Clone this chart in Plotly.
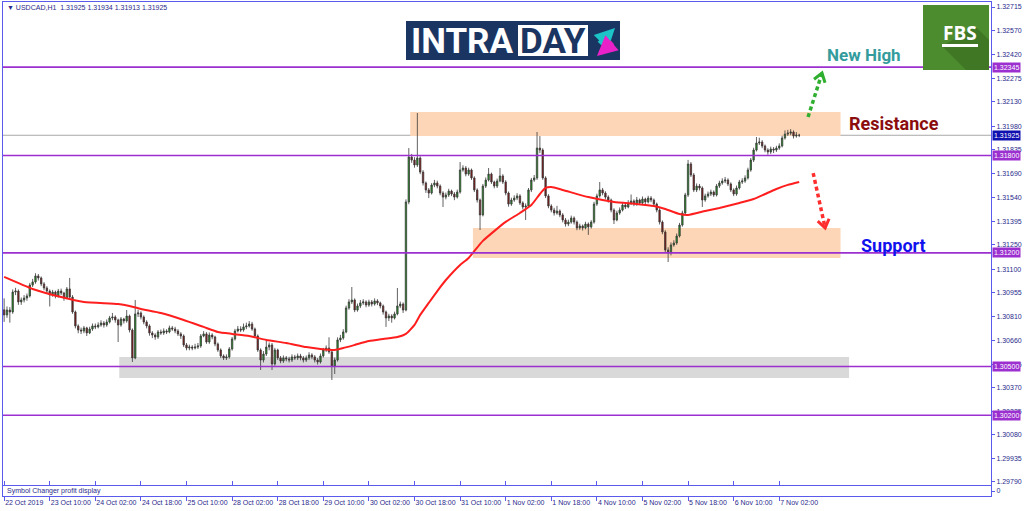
import plotly.graph_objects as go

# ---------------- data ----------------
BAR_INDEX = list(range(280))

OPEN = [1.30850,
 1.30818, 1.30848, 1.30836, 1.30959, 1.30965, 1.30898, 1.30910, 1.30922, 1.30935, 1.31002,
 1.31021, 1.31058, 1.31046, 1.31009, 1.30984, 1.30965, 1.30941, 1.30959, 1.30935, 1.30965,
 1.30953, 1.30922, 1.30978, 1.30928, 1.30836, 1.30750, 1.30725, 1.30719, 1.30738, 1.30707,
 1.30731, 1.30750, 1.30744, 1.30756, 1.30768, 1.30756, 1.30774, 1.30799, 1.30805, 1.30787,
 1.30756, 1.30793, 1.30781, 1.30811, 1.30725, 1.30553, 1.30824, 1.30830, 1.30805, 1.30774,
 1.30750, 1.30707, 1.30694, 1.30682, 1.30713, 1.30707, 1.30719, 1.30713, 1.30738, 1.30731,
 1.30719, 1.30701, 1.30688, 1.30633, 1.30614, 1.30620, 1.30614, 1.30620, 1.30627, 1.30688,
 1.30701, 1.30651, 1.30694, 1.30682, 1.30639, 1.30602, 1.30565, 1.30553, 1.30559, 1.30608,
 1.30670, 1.30719, 1.30731, 1.30725, 1.30744, 1.30750, 1.30762, 1.30731, 1.30688, 1.30602,
 1.30540, 1.30577, 1.30620, 1.30633, 1.30516, 1.30602, 1.30553, 1.30534, 1.30553, 1.30547,
 1.30540, 1.30559, 1.30553, 1.30565, 1.30553, 1.30540, 1.30553, 1.30571, 1.30559, 1.30540,
 1.30528, 1.30565, 1.30602, 1.30614, 1.30590, 1.30503, 1.30540, 1.30664, 1.30676, 1.30713,
 1.30861, 1.30898, 1.30910, 1.30848, 1.30873, 1.30892, 1.30898, 1.30879, 1.30898, 1.30885,
 1.30904, 1.30892, 1.30873, 1.30836, 1.30799, 1.30811, 1.30799, 1.30824, 1.30873, 1.30885,
 1.30848, 1.31514, 1.31791, 1.31772, 1.31742, 1.31785, 1.31698, 1.31631, 1.31588, 1.31569,
 1.31618, 1.31631, 1.31612, 1.31569, 1.31544, 1.31557, 1.31581, 1.31563, 1.31544, 1.31575,
 1.31711, 1.31723, 1.31686, 1.31711, 1.31662, 1.31588, 1.31526, 1.31434, 1.31612, 1.31649,
 1.31686, 1.31637, 1.31612, 1.31643, 1.31674, 1.31637, 1.31569, 1.31501, 1.31526, 1.31538,
 1.31551, 1.31508, 1.31483, 1.31489, 1.31588, 1.31649, 1.31662, 1.31846, 1.31834, 1.31662,
 1.31551, 1.31489, 1.31464, 1.31446, 1.31458, 1.31434, 1.31403, 1.31378, 1.31390, 1.31415,
 1.31390, 1.31354, 1.31366, 1.31354, 1.31378, 1.31360, 1.31390, 1.31501, 1.31551, 1.31588,
 1.31569, 1.31544, 1.31526, 1.31464, 1.31403, 1.31446, 1.31464, 1.31495, 1.31483, 1.31508,
 1.31520, 1.31501, 1.31526, 1.31508, 1.31532, 1.31514, 1.31538, 1.31526, 1.31501, 1.31464,
 1.31390, 1.31329, 1.31218, 1.31200, 1.31249, 1.31261, 1.31304, 1.31372, 1.31446, 1.31557,
 1.31748, 1.31680, 1.31588, 1.31612, 1.31600, 1.31526, 1.31551, 1.31563, 1.31575, 1.31557,
 1.31612, 1.31631, 1.31643, 1.31649, 1.31625, 1.31588, 1.31563, 1.31600, 1.31637, 1.31643,
 1.31662, 1.31711, 1.31772, 1.31834, 1.31877, 1.31883, 1.31859, 1.31834, 1.31822, 1.31840,
 1.31834, 1.31846, 1.31859, 1.31908, 1.31932, 1.31938, 1.31945, 1.31920, 1.31925]

HIGH = [
 1.30920, 1.30870, 1.30866, 1.30975, 1.30985, 1.30975, 1.30925, 1.30940, 1.30950, 1.31015,
 1.31040, 1.31075, 1.31070, 1.31055, 1.31020, 1.30995, 1.30975, 1.30972, 1.30968, 1.30978,
 1.30980, 1.30960, 1.30990, 1.31046, 1.30940, 1.30845, 1.30760, 1.30740, 1.30750, 1.30745,
 1.30745, 1.30765, 1.30765, 1.30772, 1.30785, 1.30780, 1.30790, 1.30812, 1.30830, 1.30815,
 1.30795, 1.30805, 1.30800, 1.30848, 1.30820, 1.30735, 1.30910, 1.30850, 1.30840, 1.30815,
 1.30785, 1.30760, 1.30718, 1.30705, 1.30725, 1.30728, 1.30735, 1.30730, 1.30752, 1.30750,
 1.30745, 1.30730, 1.30712, 1.30698, 1.30645, 1.30635, 1.30632, 1.30640, 1.30645, 1.30700,
 1.30718, 1.30712, 1.30710, 1.30705, 1.30690, 1.30648, 1.30612, 1.30575, 1.30575, 1.30620,
 1.30682, 1.30732, 1.30750, 1.30748, 1.30765, 1.30770, 1.30780, 1.30775, 1.30740, 1.30698,
 1.30612, 1.30595, 1.30670, 1.30648, 1.30645, 1.30615, 1.30610, 1.30565, 1.30568, 1.30565,
 1.30560, 1.30575, 1.30572, 1.30580, 1.30578, 1.30565, 1.30568, 1.30588, 1.30582, 1.30570,
 1.30552, 1.30580, 1.30615, 1.30630, 1.30680, 1.30600, 1.30555, 1.30680, 1.30695, 1.30730,
 1.30875, 1.30915, 1.30990, 1.30920, 1.30888, 1.30910, 1.30915, 1.30908, 1.30912, 1.30910,
 1.30920, 1.30915, 1.30900, 1.30882, 1.30845, 1.30825, 1.30822, 1.30838, 1.30984, 1.30900,
 1.30895, 1.31530, 1.31846, 1.31810, 1.31790, 1.32062, 1.31795, 1.31710, 1.31640, 1.31600,
 1.31630, 1.31650, 1.31645, 1.31622, 1.31580, 1.31572, 1.31595, 1.31590, 1.31575, 1.31590,
 1.31760, 1.31740, 1.31735, 1.31725, 1.31720, 1.31672, 1.31598, 1.31535, 1.31625, 1.31665,
 1.31723, 1.31695, 1.31645, 1.31658, 1.31723, 1.31685, 1.31648, 1.31578, 1.31540, 1.31555,
 1.31568, 1.31562, 1.31518, 1.31505, 1.31600, 1.31662, 1.31680, 1.31945, 1.31920, 1.31845,
 1.31672, 1.31562, 1.31500, 1.31478, 1.31490, 1.31468, 1.31445, 1.31415, 1.31405, 1.31430,
 1.31425, 1.31400, 1.31380, 1.31375, 1.31392, 1.31388, 1.31402, 1.31515, 1.31565, 1.31637,
 1.31600, 1.31580, 1.31555, 1.31535, 1.31475, 1.31460, 1.31480, 1.31510, 1.31505, 1.31525,
 1.31560, 1.31530, 1.31545, 1.31535, 1.31548, 1.31540, 1.31552, 1.31550, 1.31535, 1.31510,
 1.31475, 1.31400, 1.31340, 1.31235, 1.31265, 1.31278, 1.31320, 1.31385, 1.31460, 1.31570,
 1.31773, 1.31760, 1.31692, 1.31628, 1.31625, 1.31610, 1.31565, 1.31578, 1.31590, 1.31585,
 1.31625, 1.31645, 1.31660, 1.31668, 1.31660, 1.31635, 1.31598, 1.31615, 1.31650, 1.31660,
 1.31678, 1.31725, 1.31785, 1.31848, 1.31914, 1.31910, 1.31895, 1.31868, 1.31845, 1.31855,
 1.31852, 1.31860, 1.31875, 1.31922, 1.31955, 1.31958, 1.31963, 1.31955, 1.31945, 1.31934]

LOW = [
 1.30775, 1.30800, 1.30770, 1.30825, 1.30940, 1.30880, 1.30880, 1.30895, 1.30905, 1.30925,
 1.30990, 1.31010, 1.31030, 1.30995, 1.30970, 1.30950, 1.30870, 1.30930, 1.30920, 1.30925,
 1.30940, 1.30905, 1.30915, 1.30915, 1.30825, 1.30735, 1.30705, 1.30700, 1.30705, 1.30688,
 1.30700, 1.30720, 1.30730, 1.30735, 1.30745, 1.30740, 1.30745, 1.30765, 1.30785, 1.30770,
 1.30651, 1.30745, 1.30765, 1.30770, 1.30710, 1.30528, 1.30545, 1.30805, 1.30790, 1.30760,
 1.30735, 1.30690, 1.30675, 1.30665, 1.30670, 1.30695, 1.30695, 1.30700, 1.30705, 1.30720,
 1.30705, 1.30688, 1.30670, 1.30620, 1.30600, 1.30600, 1.30600, 1.30605, 1.30608, 1.30615,
 1.30680, 1.30640, 1.30640, 1.30668, 1.30625, 1.30590, 1.30552, 1.30540, 1.30540, 1.30548,
 1.30598, 1.30660, 1.30710, 1.30712, 1.30715, 1.30730, 1.30740, 1.30720, 1.30675, 1.30590,
 1.30479, 1.30525, 1.30565, 1.30600, 1.30479, 1.30505, 1.30540, 1.30520, 1.30522, 1.30532,
 1.30525, 1.30528, 1.30540, 1.30540, 1.30538, 1.30525, 1.30528, 1.30540, 1.30545, 1.30525,
 1.30512, 1.30518, 1.30555, 1.30590, 1.30578, 1.30417, 1.30454, 1.30530, 1.30650, 1.30665,
 1.30705, 1.30850, 1.30885, 1.30835, 1.30838, 1.30860, 1.30880, 1.30865, 1.30868, 1.30870,
 1.30875, 1.30878, 1.30858, 1.30820, 1.30744, 1.30780, 1.30770, 1.30790, 1.30815, 1.30860,
 1.30830, 1.30840, 1.31500, 1.31755, 1.31725, 1.31730, 1.31685, 1.31615, 1.31570, 1.31538,
 1.31560, 1.31605, 1.31598, 1.31555, 1.31483, 1.31530, 1.31545, 1.31550, 1.31525, 1.31535,
 1.31565, 1.31700, 1.31672, 1.31675, 1.31650, 1.31575, 1.31510, 1.31341, 1.31425, 1.31600,
 1.31640, 1.31625, 1.31598, 1.31600, 1.31635, 1.31625, 1.31555, 1.31485, 1.31490, 1.31515,
 1.31525, 1.31495, 1.31468, 1.31403, 1.31478, 1.31575, 1.31638, 1.31650, 1.31815, 1.31650,
 1.31538, 1.31475, 1.31450, 1.31430, 1.31435, 1.31420, 1.31388, 1.31362, 1.31365, 1.31380,
 1.31375, 1.31340, 1.31342, 1.31338, 1.31345, 1.31311, 1.31350, 1.31380, 1.31490, 1.31540,
 1.31555, 1.31530, 1.31510, 1.31450, 1.31378, 1.31395, 1.31435, 1.31455, 1.31470, 1.31475,
 1.31495, 1.31488, 1.31490, 1.31495, 1.31495, 1.31500, 1.31505, 1.31512, 1.31488, 1.31450,
 1.31375, 1.31315, 1.31200, 1.31144, 1.31185, 1.31238, 1.31250, 1.31295, 1.31362, 1.31438,
 1.31545, 1.31668, 1.31575, 1.31575, 1.31585, 1.31483, 1.31515, 1.31540, 1.31550, 1.31545,
 1.31548, 1.31600, 1.31620, 1.31630, 1.31612, 1.31575, 1.31550, 1.31552, 1.31590, 1.31625,
 1.31632, 1.31652, 1.31700, 1.31760, 1.31825, 1.31865, 1.31845, 1.31820, 1.31805, 1.31810,
 1.31815, 1.31822, 1.31835, 1.31850, 1.31898, 1.31920, 1.31925, 1.31905, 1.31910, 1.31913]

CLOSE = [
 1.30818, 1.30848, 1.30836, 1.30959, 1.30965, 1.30898, 1.30910, 1.30922, 1.30935, 1.31002,
 1.31021, 1.31058, 1.31046, 1.31009, 1.30984, 1.30965, 1.30941, 1.30959, 1.30935, 1.30965,
 1.30953, 1.30922, 1.30978, 1.30928, 1.30836, 1.30750, 1.30725, 1.30719, 1.30738, 1.30707,
 1.30731, 1.30750, 1.30744, 1.30756, 1.30768, 1.30756, 1.30774, 1.30799, 1.30805, 1.30787,
 1.30756, 1.30793, 1.30781, 1.30811, 1.30725, 1.30553, 1.30824, 1.30830, 1.30805, 1.30774,
 1.30750, 1.30707, 1.30694, 1.30682, 1.30713, 1.30707, 1.30719, 1.30713, 1.30738, 1.30731,
 1.30719, 1.30701, 1.30688, 1.30633, 1.30614, 1.30620, 1.30614, 1.30620, 1.30627, 1.30688,
 1.30701, 1.30651, 1.30694, 1.30682, 1.30639, 1.30602, 1.30565, 1.30553, 1.30559, 1.30608,
 1.30670, 1.30719, 1.30731, 1.30725, 1.30744, 1.30750, 1.30762, 1.30731, 1.30688, 1.30602,
 1.30540, 1.30577, 1.30620, 1.30633, 1.30516, 1.30602, 1.30553, 1.30534, 1.30553, 1.30547,
 1.30540, 1.30559, 1.30553, 1.30565, 1.30553, 1.30540, 1.30553, 1.30571, 1.30559, 1.30540,
 1.30528, 1.30565, 1.30602, 1.30614, 1.30590, 1.30503, 1.30540, 1.30664, 1.30676, 1.30713,
 1.30861, 1.30898, 1.30910, 1.30848, 1.30873, 1.30892, 1.30898, 1.30879, 1.30898, 1.30885,
 1.30904, 1.30892, 1.30873, 1.30836, 1.30799, 1.30811, 1.30799, 1.30824, 1.30873, 1.30885,
 1.30848, 1.31514, 1.31791, 1.31772, 1.31742, 1.31785, 1.31698, 1.31631, 1.31588, 1.31569,
 1.31618, 1.31631, 1.31612, 1.31569, 1.31544, 1.31557, 1.31581, 1.31563, 1.31544, 1.31575,
 1.31711, 1.31723, 1.31686, 1.31711, 1.31662, 1.31588, 1.31526, 1.31434, 1.31612, 1.31649,
 1.31686, 1.31637, 1.31612, 1.31643, 1.31674, 1.31637, 1.31569, 1.31501, 1.31526, 1.31538,
 1.31551, 1.31508, 1.31483, 1.31489, 1.31588, 1.31649, 1.31662, 1.31846, 1.31834, 1.31662,
 1.31551, 1.31489, 1.31464, 1.31446, 1.31458, 1.31434, 1.31403, 1.31378, 1.31390, 1.31415,
 1.31390, 1.31354, 1.31366, 1.31354, 1.31378, 1.31360, 1.31390, 1.31501, 1.31551, 1.31588,
 1.31569, 1.31544, 1.31526, 1.31464, 1.31403, 1.31446, 1.31464, 1.31495, 1.31483, 1.31508,
 1.31520, 1.31501, 1.31526, 1.31508, 1.31532, 1.31514, 1.31538, 1.31526, 1.31501, 1.31464,
 1.31390, 1.31329, 1.31218, 1.31200, 1.31249, 1.31261, 1.31304, 1.31372, 1.31446, 1.31557,
 1.31748, 1.31680, 1.31588, 1.31612, 1.31600, 1.31526, 1.31551, 1.31563, 1.31575, 1.31557,
 1.31612, 1.31631, 1.31643, 1.31649, 1.31625, 1.31588, 1.31563, 1.31600, 1.31637, 1.31643,
 1.31662, 1.31711, 1.31772, 1.31834, 1.31877, 1.31883, 1.31859, 1.31834, 1.31822, 1.31840,
 1.31834, 1.31846, 1.31859, 1.31908, 1.31932, 1.31938, 1.31945, 1.31920, 1.31926, 1.31925]

# moving average (red line), sampled along the bars
MA_INDEX = [0, 10, 20, 28, 40, 44, 48, 55, 63, 70, 75, 80, 86, 92, 99, 106, 111, 116, 119, 123,
            128, 133, 138, 141, 144, 146, 149, 152, 155, 160, 163, 168, 176, 181, 185, 188, 190,
            192, 196, 205, 214, 222, 228, 232, 237, 240, 246, 251, 258, 263, 267, 271, 275, 279]
MA_VALUE = [1.31052, 1.30978, 1.30928, 1.30898, 1.30885, 1.30873, 1.30855, 1.30830, 1.30787, 1.30744,
            1.30713, 1.30701, 1.30688, 1.30664, 1.30645, 1.30620, 1.30608, 1.30602, 1.30614, 1.30633,
            1.30657, 1.30670, 1.30682, 1.30701, 1.30756, 1.30818, 1.30892, 1.30965, 1.31033, 1.31126,
            1.31169, 1.31274, 1.31391, 1.31446, 1.31495, 1.31563, 1.31600, 1.31606, 1.31588, 1.31544,
            1.31514, 1.31502, 1.31489, 1.31471, 1.31440, 1.31434, 1.31458, 1.31477, 1.31508, 1.31532,
            1.31563, 1.31594, 1.31619, 1.31637]

X_TICK_INDEX = [0, 16, 32, 48, 64, 80, 96, 112, 128, 144, 160, 176, 192, 208, 224, 240, 256, 272]
X_TICK_LABELS = ["22 Oct 2019", "23 Oct 10:00", "24 Oct 02:00", "24 Oct 18:00", "25 Oct 10:00",
                 "28 Oct 02:00", "28 Oct 18:00", "29 Oct 10:00", "30 Oct 02:00", "30 Oct 18:00",
                 "31 Oct 10:00", "1 Nov 02:00", "1 Nov 18:00", "4 Nov 10:00", "5 Nov 02:00",
                 "5 Nov 18:00", "6 Nov 10:00", "7 Nov 02:00"]
Y_TICK_VALUES = [1.32715, 1.32570, 1.32420, 1.32275, 1.32130, 1.31980, 1.31835, 1.31690, 1.31540,
                 1.31395, 1.31250, 1.31100, 1.30955, 1.30810, 1.30660, 1.30515, 1.30370, 1.30225,
                 1.30080, 1.29935, 1.29790]

LEVELS = [1.32345, 1.31800, 1.31200, 1.30500, 1.30200]
BID = 1.31925
HEADER = "▼ USDCAD,H1  1.31925 1.31934 1.31913 1.31925"

# zones: [first bar, last bar, low price, high price]
RESIST_ZONE = [142.5, 293.5, 1.31920, 1.32068]
SUPPORT_ZONE = [164.5, 293.5, 1.31169, 1.31354]
BASE_ZONE = [40.4, 296.5, 1.30430, 1.30559]

# forecast arrows: [bar, price] start -> end
UP_ARROW = [[282.1, 1.32037], [287.0, 1.32308]]
DOWN_ARROW = [[283.9, 1.31692], [288.1, 1.31354]]

# ---------------- layout helpers ----------------
W, H = 1024, 511
ML, MR, MT, MB = 3, 33, 2, 15
PW, PH = W - ML - MR, H - MT - MB


def px(x):
    return (x - ML) / PW


def py(y):
    return (H - MB - y) / PH


AXIS_BLUE = "#5a5aec"
LABEL_NAVY = "#2a2a8c"
PURPLE = "#9b2fcf"
SMALL = "Liberation Sans"

fig = go.Figure()

fig.add_trace(go.Candlestick(
    x=BAR_INDEX, open=OPEN, high=HIGH, low=LOW, close=CLOSE,
    increasing=dict(line=dict(color="#3a3a3a", width=0.8), fillcolor="#1e9a1e"),
    decreasing=dict(line=dict(color="#3a3a3a", width=0.8), fillcolor="#8c1010"),
    whiskerwidth=0, showlegend=False, hoverinfo="skip", xaxis="x", yaxis="y"))

fig.add_trace(go.Scatter(
    x=MA_INDEX, y=MA_VALUE, mode="lines",
    line=dict(color="#ff1e1e", width=2, shape="spline", smoothing=0.5),
    showlegend=False, hoverinfo="skip", xaxis="x", yaxis="y"))

fig.add_trace(go.Scatter(x=[], y=[], mode="lines", showlegend=False,
                         xaxis="x", yaxis="y2"))

shapes = []
for zone, color in [(RESIST_ZONE, "#fcd6b6"), (SUPPORT_ZONE, "#fcd6b6"), (BASE_ZONE, "#d9d9d9")]:
    shapes.append(dict(type="rect", xref="x", yref="y", x0=zone[0], x1=zone[1],
                       y0=zone[2], y1=zone[3], fillcolor=color, line=dict(width=0),
                       layer="below"))

shapes.append(dict(type="line", xref="paper", yref="y", x0=0, x1=1, y0=BID, y1=BID,
                   line=dict(color="#a8a8a8", width=1), layer="below"))
for lv in LEVELS:
    shapes.append(dict(type="line", xref="paper", yref="y", x0=0, x1=1, y0=lv, y1=lv,
                       line=dict(color=PURPLE, width=1.6)))

# dashed forecast arrows
for arr, col in [(UP_ARROW, "#2fae2f"), (DOWN_ARROW, "#ff2e2e")]:
    (xa, ya), (xb, yb) = arr
    shapes.append(dict(type="line", xref="x", yref="y", x0=xa, y0=ya, x1=xb, y1=yb,
                       line=dict(color=col, width=3.5, dash="4px,3px")))
shapes.append(dict(type="path", xref="x", yref="y", xsizemode="pixel", ysizemode="pixel",
                   xanchor=UP_ARROW[1][0], yanchor=UP_ARROW[1][1],
                   path="M 3.0 -9.6 L 0 0 L -8.0 -6.1",
                   line=dict(color="#2fae2f", width=3)))
shapes.append(dict(type="path", xref="x", yref="y", xsizemode="pixel", ysizemode="pixel",
                   xanchor=DOWN_ARROW[1][0], yanchor=DOWN_ARROW[1][1],
                   path="M -7.4 6.8 L 0 0 L 3.9 9.2",
                   line=dict(color="#ff2e2e", width=3)))

# INTRADAY logo
shapes.append(dict(type="rect", xref="paper", yref="paper", x0=px(406), x1=px(620),
                   y0=py(60), y1=py(21), fillcolor="#1b3562", line=dict(width=0)))
shapes.append(dict(type="rect", xref="paper", yref="paper", x0=px(518), x1=px(588),
                   y0=py(56), y1=py(25), fillcolor="white", line=dict(width=0)))
# FBS logo
shapes.append(dict(type="rect", xref="paper", yref="paper", x0=px(923), x1=px(989),
                   y0=py(70), y1=py(5), fillcolor="#4d8c2e", line=dict(width=0)))
shapes.append(dict(type="path", xref="paper", yref="paper",
                   path="M %f %f L %f %f L %f %f L %f %f L %f %f Z" % (
                       px(976), py(27), px(989), py(40), px(989), py(70),
                       px(966), py(70), px(942), py(46)),
                   fillcolor="#3f7724", line=dict(width=0)))
shapes.append(dict(type="rect", xref="paper", yref="paper", x0=px(942), x1=px(978),
                   y0=py(47), y1=py(44), fillcolor="white", line=dict(width=0)))

annotations = []


def text_at(x, y, text, size, color, family, xanchor="center"):
    annotations.append(dict(xref="paper", yref="paper", x=px(x), y=py(y), text=text,
                            xanchor=xanchor, yanchor="middle", showarrow=False,
                            font=dict(family=family, size=size, color=color)))


text_at(5, 7, HEADER, 7, LABEL_NAVY, SMALL, "left")
text_at(5, 491, "Symbol Changer profit display", 7, LABEL_NAVY, SMALL, "left")

for lv in LEVELS:
    annotations.append(dict(xref="paper", yref="y", x=1, y=lv, xanchor="left", xshift=1,
                            yanchor="middle", text="%.5f" % lv, showarrow=False,
                            bgcolor=PURPLE, borderpad=1,
                            font=dict(family=SMALL, size=7, color="white")))
annotations.append(dict(xref="paper", yref="y", x=1, y=BID, xanchor="left", xshift=1,
                        yanchor="middle", text="%.5f" % BID, showarrow=False,
                        bgcolor="#1010b0", borderpad=1,
                        font=dict(family=SMALL, size=7, color="white")))

text_at(864, 55, "<b>New High</b>", 17, "#349c9c", "Roboto")
text_at(894, 123, "<b>Resistance</b>", 18, "#8b0d0d", "Roboto")
text_at(893, 245, "<b>Support</b>", 18, "#1111ee", "Roboto")
text_at(462, 41, "<b>INTRA</b>", 35, "white", "Roboto")
text_at(553, 41, "<b>DAY</b>", 35, "#1b3562", "Roboto")
text_at(960, 33, "<b>FBS</b>", 19, "white", "Open Sans")

annotations.append(dict(xref="paper", yref="paper", x=px(615), y=py(28), ax=-17, ay=17,
                        showarrow=True, arrowhead=2, arrowsize=0.8, arrowwidth=5,
                        arrowcolor="#1cc4c8", text=""))
annotations.append(dict(xref="paper", yref="paper", x=px(597), y=py(56), ax=17, ay=-15,
                        showarrow=True, arrowhead=2, arrowsize=0.8, arrowwidth=5,
                        arrowcolor="#e822c8", text=""))

fig.update_layout(
    width=W, height=H,
    margin=dict(l=ML, r=MR, t=MT, b=MB),
    paper_bgcolor="white", plot_bgcolor="white",
    showlegend=False,
    xaxis=dict(domain=[0, 1], anchor="y2", range=[-0.4, 346.3],
               tickvals=X_TICK_INDEX, ticktext=X_TICK_LABELS, tickangle=0,
               ticks="outside", ticklen=4, tickcolor=AXIS_BLUE,
               ticklabelposition="outside right",
               tickfont=dict(family=SMALL, size=7, color=LABEL_NAVY),
               showgrid=False, zeroline=False, showline=True, linecolor=AXIS_BLUE,
               linewidth=1, mirror="all", rangeslider=dict(visible=False),
               automargin=False, fixedrange=True),
    yaxis=dict(domain=[py(485), 1], anchor="x", side="right", range=[1.29770, 1.32746],
               tickvals=Y_TICK_VALUES, ticktext=["%.5f" % v for v in Y_TICK_VALUES],
               ticks="outside", ticklen=3, tickcolor=AXIS_BLUE,
               tickfont=dict(family=SMALL, size=7, color=LABEL_NAVY),
               showgrid=False, zeroline=False, showline=True, linecolor=AXIS_BLUE,
               linewidth=1, mirror=True, automargin=False, fixedrange=True),
    yaxis2=dict(domain=[0, py(486)], anchor="x", side="right", range=[-1, 1],
                tickvals=[0], ticktext=["0"], ticks="outside", ticklen=3,
                tickcolor=AXIS_BLUE,
                tickfont=dict(family=SMALL, size=7, color=LABEL_NAVY),
                showgrid=False, zeroline=False, showline=True, linecolor=AXIS_BLUE,
                linewidth=1, mirror=True, automargin=False, fixedrange=True),
    shapes=shapes,
    annotations=annotations,
)

fig.write_html("out.html", config={"displayModeBar": False},
               post_script="document.body.style.margin='0px';"
                           "document.body.style.overflow='hidden';")
